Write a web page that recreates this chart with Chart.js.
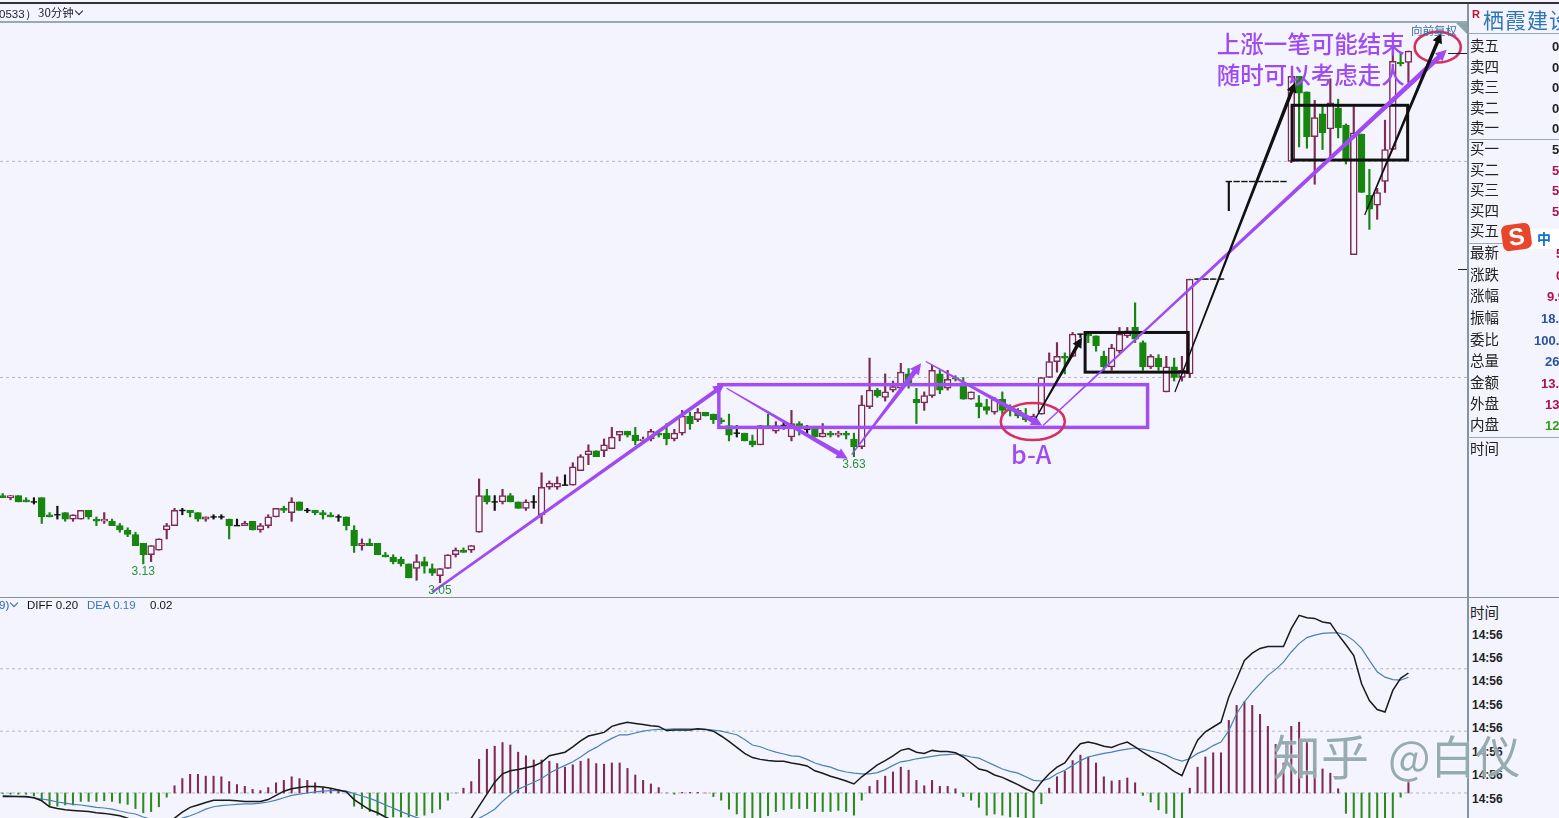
<!DOCTYPE html>
<html lang="zh">
<head>
<meta charset="utf-8">
<title>栖霞建设 30分钟</title>
<script src="https://cdn.jsdelivr.net/npm/chart.js@4"></script>
<style>
  html, body { margin: 0; padding: 0; background: #f3f4fe; }
  #page { position: relative; width: 1559px; height: 818px; overflow: hidden; background: #f3f4fe; font-family: "Noto Sans CJK SC", sans-serif; }
  canvas { position: absolute; left: 0; display: block; }
  .t { position: absolute; white-space: nowrap; line-height: 1; }
  .rule { position: absolute; background: #9aa8b2; }
  .row { font-size: 14.5px; color: #222; left: 1470px; }
  .val { font: 13px "Liberation Sans", sans-serif; font-weight: bold; }
  .clock { font: bold 12px "Liberation Sans", sans-serif; color: #222; left: 1472px; }
  .chev { position: absolute; width: 5px; height: 5px; border-right: 1.5px solid #223; border-bottom: 1.5px solid #223; transform: rotate(45deg); }
</style>
</head>
<body>
<div id="page">
  <canvas id="priceChart" width="1467" height="575" style="top:22px"></canvas>
  <canvas id="macdChart" width="1467" height="220" style="top:598px"></canvas>

  <div class="rule" style="left:0;top:2px;width:1559px;height:2px;background:#333"></div>
  <div class="rule" style="left:0;top:21px;width:1467px;height:2px"></div>
  <div class="rule" style="left:0;top:597px;width:1559px;height:1px;background:#8a8f98"></div>
  <div class="rule" style="left:1467px;top:4px;width:1.5px;height:814px;background:#8494a2"></div>
  <div class="rule" style="left:1468px;top:33px;width:91px;height:1px"></div>
  <div class="rule" style="left:1468px;top:139px;width:91px;height:1px"></div>
  <div class="rule" style="left:1468px;top:243px;width:91px;height:1px"></div>
  <div class="rule" style="left:1468px;top:437px;width:91px;height:1px"></div>
  <div class="rule" style="left:1448px;top:53px;width:19px;height:1px;background:#222"></div>
  <div class="rule" style="left:1458px;top:269px;width:9px;height:1px;background:#222"></div>
  <div style="position:absolute;left:1456px;top:23px;width:0;height:0;border-top:11px solid #8aa4a8;border-left:11px solid transparent"></div>

  <div class="t" style="left:-1px;top:7px;font:11.5px 'Liberation Sans';color:#223">0533）</div>
  <div class="t" style="left:38px;top:7px;font-size:11.5px;color:#223">30分钟</div>
  <div class="chev" style="left:76px;top:8px"></div>
  <div class="t" style="left:1411px;top:25px;font-size:11.5px;color:#3a6ea5">向前复权</div>

  <div class="t" style="left:-1px;top:599px;font:11.5px 'Liberation Sans';color:#2a62b0">9)</div>
  <div class="chev" style="left:11px;top:600px;border-color:#2a62b0"></div>
  <div class="t" style="left:27px;top:599px;font:11.5px 'Liberation Sans';color:#111">DIFF 0.20</div>
  <div class="t" style="left:87px;top:599px;font:11.5px 'Liberation Sans';color:#3a74c0">DEA 0.19</div>
  <div class="t" style="left:150px;top:599px;font:11.5px 'Liberation Sans';color:#111">0.02</div>

  <div class="t" style="left:1472px;top:8px;font:bold 11px 'Liberation Sans';color:#c01030">R</div>
  <div class="t" style="left:1483px;top:9px;font-size:21px;color:#2f74b5;letter-spacing:1px">栖霞建设</div>
  <div id="quotePanel"></div>

  <div style="position:absolute;left:1520px;top:229px;width:39px;height:20px;background:#fff"></div>
  <div class="t" style="left:1537px;top:231px;font-size:14px;font-weight:bold;color:#1070d0">中</div>
  <div class="t" style="left:1502px;top:224px;width:29px;height:26px;background:#e8452a;border-radius:6px;transform:rotate(-8deg);color:#fff;font:bold 24px/26px 'Liberation Sans';text-align:center">S</div>

  <div class="t" style="left:1273px;top:730px;font-size:48px;font-weight:400;color:rgba(125,150,160,.8);text-shadow:0 0 2px #fff">知乎</div>
  <div class="t" style="left:1388px;top:732px;font-size:45px;font-weight:400;color:rgba(125,150,160,.8);text-shadow:0 0 2px #fff">@白仪</div>
</div>

<script>
const opens = [
  3.44,3.43,3.44,3.42,3.41,3.43,3.35,3.35,3.36,3.33,
  3.33,3.37,3.33,3.32,3.32,3.30,3.28,3.26,3.22,3.17,
  3.19,3.28,3.30,3.37,3.37,3.36,3.33,3.34,3.34,3.33,
  3.30,3.30,3.32,3.28,3.30,3.34,3.38,3.36,3.41,3.37,
  3.37,3.36,3.35,3.34,3.34,3.28,3.21,3.22,3.22,3.17,
  3.16,3.15,3.13,3.11,3.14,3.11,3.08,3.11,3.17,3.19,
  3.19,3.27,3.44,3.41,3.41,3.44,3.41,3.38,3.41,3.35,
  3.48,3.48,3.49,3.49,3.56,3.64,3.66,3.66,3.67,3.74,
  3.76,3.74,3.71,3.72,3.75,3.75,3.72,3.75,3.84,3.82,
  3.86,3.85,3.82,3.79,3.75,3.75,3.71,3.69,3.79,3.76,
  3.79,3.73,3.80,3.77,3.78,3.73,3.75,3.74,3.75,3.72,
  3.68,3.89,3.98,3.94,3.98,3.99,4.07,3.93,3.91,3.95,
  4.07,3.99,4.05,4.02,3.93,3.91,3.89,3.86,3.93,3.88,
  3.87,3.84,3.81,3.85,4.05,4.14,4.17,4.17,4.30,4.30,
  4.29,4.17,4.11,4.20,4.29,4.34,4.25,4.11,4.16,3.97,
  4.11,4.05,4.07,4.64,4.64,4.64,4.64,5.31,5.31,5.31,
  5.31,5.31,5.31,5.31,5.31,5.46,6.14,6.01,5.65,5.83,
  5.71,5.88,5.74,4.80,5.67,5.21,5.14,5.31,5.55,6.26,6.26
];
const closes = [
  3.43,3.44,3.41,3.41,3.41,3.34,3.34,3.35,3.33,3.35,
  3.37,3.34,3.32,3.33,3.30,3.28,3.26,3.21,3.17,3.21,
  3.24,3.30,3.37,3.37,3.36,3.33,3.34,3.34,3.34,3.30,
  3.30,3.31,3.28,3.30,3.34,3.38,3.37,3.41,3.37,3.37,
  3.36,3.35,3.34,3.34,3.30,3.21,3.22,3.21,3.17,3.16,
  3.14,3.13,3.07,3.14,3.12,3.09,3.11,3.17,3.19,3.18,
  3.21,3.44,3.41,3.41,3.44,3.41,3.38,3.41,3.41,3.48,
  3.50,3.50,3.49,3.58,3.63,3.66,3.63,3.69,3.73,3.76,
  3.74,3.71,3.72,3.76,3.74,3.72,3.75,3.84,3.80,3.86,
  3.84,3.82,3.81,3.74,3.75,3.71,3.69,3.79,3.78,3.79,
  3.79,3.80,3.78,3.77,3.73,3.75,3.74,3.75,3.74,3.68,
  3.90,3.98,3.95,3.97,4.00,4.08,4.02,3.91,3.95,4.09,
  3.98,4.04,4.04,3.93,3.97,3.89,3.87,3.93,3.87,3.87,
  3.84,3.82,3.84,4.05,4.14,4.17,4.16,4.30,4.30,4.29,
  4.23,4.11,4.22,4.30,4.32,4.27,4.11,4.17,4.11,4.11,
  4.05,4.09,4.64,4.64,4.64,4.64,4.64,5.31,5.31,5.31,
  5.31,5.31,5.31,5.31,5.31,6.14,6.00,5.65,5.80,5.68,
  5.92,5.72,5.48,5.68,5.23,5.11,5.23,5.55,6.27,6.25,6.36
];
const highs = [
  3.45,3.44,3.44,3.43,3.43,3.43,3.36,3.39,3.36,3.35,
  3.37,3.37,3.34,3.36,3.33,3.31,3.29,3.27,3.22,3.21,
  3.24,3.31,3.38,3.38,3.37,3.36,3.34,3.35,3.35,3.33,
  3.33,3.32,3.32,3.31,3.35,3.38,3.39,3.43,3.41,3.38,
  3.37,3.37,3.36,3.35,3.34,3.30,3.24,3.24,3.22,3.18,
  3.17,3.16,3.13,3.17,3.16,3.13,3.11,3.17,3.20,3.20,
  3.21,3.52,3.47,3.44,3.47,3.45,3.41,3.42,3.44,3.55,
  3.51,3.53,3.54,3.60,3.64,3.69,3.66,3.72,3.78,3.76,
  3.76,3.78,3.73,3.77,3.76,3.80,3.77,3.87,3.86,3.88,
  3.86,3.85,3.83,3.85,3.79,3.75,3.74,3.79,3.85,3.81,
  3.81,3.87,3.81,3.79,3.78,3.80,3.76,3.76,3.76,3.75,
  3.95,4.16,3.99,4.07,4.03,4.13,4.10,3.99,3.97,4.12,
  4.09,4.09,4.06,4.05,3.97,3.95,3.93,3.94,3.97,3.90,
  3.88,3.88,3.85,4.05,4.19,4.25,4.19,4.31,4.30,4.30,
  4.29,4.20,4.24,4.34,4.34,4.49,4.26,4.18,4.18,4.17,
  4.16,4.17,4.64,4.64,4.64,4.64,4.64,5.31,5.31,5.31,
  5.31,5.31,5.31,5.31,5.31,6.14,6.14,6.01,5.94,5.90,
  6.12,5.95,5.75,5.89,5.67,5.40,5.26,5.78,6.37,6.34,6.36
];
const lows = [
  3.43,3.42,3.41,3.41,3.40,3.31,3.34,3.33,3.32,3.32,
  3.33,3.33,3.30,3.31,3.30,3.27,3.25,3.21,3.13,3.14,
  3.19,3.24,3.30,3.35,3.34,3.32,3.32,3.33,3.33,3.24,
  3.30,3.30,3.28,3.27,3.29,3.34,3.36,3.32,3.37,3.36,
  3.35,3.33,3.34,3.32,3.28,3.18,3.19,3.21,3.17,3.16,
  3.13,3.12,3.07,3.06,3.09,3.08,3.05,3.11,3.16,3.18,
  3.18,3.27,3.40,3.37,3.40,3.41,3.38,3.37,3.38,3.31,
  3.47,3.47,3.49,3.49,3.56,3.59,3.63,3.63,3.67,3.71,
  3.73,3.69,3.70,3.71,3.73,3.69,3.71,3.74,3.77,3.81,
  3.84,3.80,3.80,3.71,3.73,3.71,3.68,3.69,3.78,3.75,
  3.77,3.71,3.74,3.75,3.73,3.73,3.73,3.73,3.72,3.63,
  3.67,3.88,3.94,3.92,3.97,3.98,3.99,3.80,3.87,3.94,
  3.96,3.98,4.03,3.93,3.93,3.83,3.85,3.85,3.85,3.84,
  3.83,3.81,3.80,3.85,4.05,4.08,4.07,4.17,4.28,4.25,
  4.20,4.09,4.09,4.19,4.28,4.25,4.09,4.10,4.09,3.97,
  4.03,4.03,4.05,4.64,4.64,4.64,4.64,5.10,5.31,5.31,
  5.31,5.31,5.31,5.31,5.31,5.45,5.57,5.56,5.29,5.55,
  5.49,5.64,5.44,4.80,5.23,4.97,5.04,5.23,5.55,6.23,6.09
];

const macdHist = [
  -.001,-.002,-.002,-.002,-.005,-.012,-.022,-.022,-.02,-.02,
  -.014,-.014,-.014,-.013,-.014,-.017,-.019,-.026,-.033,-.031,
  -.023,-.007,.012,.024,.031,.031,.028,.028,.027,.019,
  .014,.011,.006,.004,.009,.017,.021,.027,.024,.021,
  .017,.009,.007,.005,0,-.022,-.026,-.031,-.037,-.038,
  -.04,-.04,-.04,-.038,-.037,-.033,-.027,-.012,0,.008,
  .019,.056,.073,.078,.084,.08,.068,.062,.055,.055,
  .053,.049,.043,.047,.053,.057,.049,.048,.05,.05,
  .041,.03,.021,.015,.009,0,-.002,.001,.001,.001,
  0,-.006,-.012,-.027,-.035,-.042,-.05,-.05,-.038,-.031,
  -.028,-.026,-.026,-.026,-.031,-.031,-.031,-.029,-.031,-.037,
  -.012,.011,.021,.028,.035,.043,.038,.021,.012,.021,
  .011,.011,.007,-.006,-.012,-.024,-.037,-.035,-.037,-.04,
  -.04,-.05,-.05,-.018,.008,.027,.036,.054,.063,.06,
  .05,.027,.02,.021,.025,.017,-.004,-.015,-.028,-.034,
  -.045,-.05,.008,.043,.06,.067,.067,.121,.146,.152,
  .146,.131,.111,.081,.05,.111,.118,.085,.043,.04,
  .033,.007,-.034,-.05,-.06,-.06,-.055,-.05,-.045,-.007,.021
];
const diffLine = [
  -.006,-.006,-.006,-.006,-.008,-.013,-.023,-.026,-.028,-.029,
  -.03,-.031,-.033,-.034,-.036,-.038,-.042,-.048,-.055,-.058,
  -.056,-.05,-.042,-.032,-.024,-.02,-.016,-.012,-.012,-.012,
  -.013,-.014,-.014,-.014,-.011,-.004,.003,.007,.009,.011,
  .011,.01,.008,.005,.002,-.011,-.02,-.028,-.033,-.04,
  -.046,-.052,-.058,-.063,-.066,-.068,-.07,-.067,-.062,-.052,
  -.042,-.022,-.002,.018,.032,.037,.039,.042,.045,.051,
  .062,.065,.068,.077,.087,.095,.098,.101,.111,.115,
  .118,.116,.114,.112,.111,.104,.105,.105,.105,.107,
  .106,.103,.095,.086,.076,.066,.059,.056,.054,.053,
  .053,.05,.048,.045,.037,.033,.028,.024,.02,.015,
  .027,.037,.047,.054,.062,.071,.074,.068,.066,.071,
  .069,.069,.067,.06,.05,.04,.037,.03,.026,.02,
  .014,.007,.001,.018,.032,.043,.05,.068,.082,.085,
  .082,.078,.076,.081,.085,.077,.068,.06,.053,.045,
  .036,.029,.06,.088,.102,.11,.118,.16,.19,.221,
  .233,.241,.244,.244,.244,.274,.296,.292,.291,.285,
  .283,.264,.247,.229,.182,.154,.139,.135,.171,.191,.2
];
const deaLine = [
  -.004,-.005,-.006,-.007,-.008,-.01,-.012,-.015,-.017,-.019,
  -.02,-.022,-.024,-.025,-.027,-.03,-.033,-.035,-.04,-.044,
  -.047,-.049,-.047,-.042,-.038,-.033,-.027,-.023,-.021,-.02,
  -.019,-.018,-.018,-.017,-.015,-.012,-.008,-.004,-.002,0,
  .002,.003,.004,.004,.003,-.001,-.005,-.009,-.014,-.02,
  -.025,-.031,-.036,-.041,-.045,-.05,-.054,-.057,-.058,-.056,
  -.051,-.042,-.035,-.027,-.014,-.003,.006,.012,.018,.024,
  .033,.04,.046,.052,.06,.069,.076,.084,.091,.097,
  .097,.1,.103,.105,.106,.106,.107,.107,.107,.106,
  .106,.105,.103,.1,.097,.089,.08,.077,.072,.068,
  .065,.062,.061,.056,.05,.046,.043,.038,.035,.033,
  .032,.032,.034,.039,.046,.052,.054,.057,.059,.061,
  .063,.064,.065,.063,.06,.058,.052,.046,.04,.036,
  .033,.027,.021,.02,.024,.032,.038,.046,.054,.06,
  .063,.066,.068,.071,.073,.075,.073,.07,.067,.063,
  .057,.053,.057,.066,.071,.079,.085,.104,.132,.152,
  .168,.182,.196,.206,.218,.235,.249,.259,.263,.266,
  .267,.267,.263,.254,.241,.221,.202,.193,.189,.188,.193
];

// lows marked on the price panel: candle index, label
const lowMarks = [[18, '3.13'], [56, '3.05'], [109, '3.63']];
const priceLevels = [4.05, 5.46];
const macdLevels = [0, 0.103, 0.207];

// hand drawn marks, all in candle index / price: x0, p0, x1, p1
const purpleArrows = [
  [55.0, 3.01, 92.4, 4.01],
  [92.7, 3.99, 108.2, 3.62],
  [108.7, 3.64, 117.6, 4.13],
  [118.2, 4.14, 133.1, 3.79],
  [133.2, 3.79, 184.9, 6.37]
];
const blackArrows = [
  [132.3, 3.83, 138.2, 4.28],
  [150.1, 3.97, 165.5, 6.09],
  [174.4, 5.07, 184.2, 6.52]
];
const purpleBoxes = [[91.7, 4.01, 146.6, 3.78]];
const blackBoxes = [[138.6, 4.31, 151.8, 4.08], [165.1, 5.90, 179.9, 5.47]];
const redRings = [[127.8, 3.91, 136.0, 3.715], [180.8, 6.53, 186.7, 6.26]];
const notes = [
  ['b-A', 131.7, 3.64, 25],
  ['上涨一笔可能结束', 167.5, 6.42, 23.5],
  ['随时可以考虑走人', 167.5, 6.15, 23.5]
];

const quoteRows = [
  ['卖五', 46, '0', 1552, '#222'], ['卖四', 67, '0', 1552, '#222'], ['卖三', 87, '0', 1552, '#222'],
  ['卖二', 108, '0', 1552, '#222'], ['卖一', 128, '0', 1552, '#222'],
  ['买一', 149, '5', 1552, '#222'], ['买二', 170, '5', 1552, '#b01048'], ['买三', 190, '5', 1552, '#b01048'],
  ['买四', 211, '5', 1552, '#b01048'], ['买五', 231, '', 0, '#222'],
  ['最新', 253, '5', 1556, '#b01048'], ['涨跌', 275, '0', 1556, '#b01048'], ['涨幅', 296, '9.9', 1547, '#b01048'],
  ['振幅', 318, '18.9', 1541, '#2a52a0'], ['委比', 340, '100.0', 1534, '#2a52a0'], ['总量', 361, '26', 1545, '#2a52a0'],
  ['金额', 383, '13.4', 1541, '#b01048'], ['外盘', 404, '137', 1545, '#b01048'], ['内盘', 425, '12', 1545, '#30a010'],
  ['时间', 449, '', 0, '#222'], ['时间', 613, '', 0, '#222']
];
const clockRows = [634, 657, 680, 704, 727, 751, 774, 798];

const UP = '#7e2a52';
const DOWN = '#17860f';
const FLAT = '#111';
const PURPLE = '#a04af4';
const BACK = '#f3f4fe';

// same x mapping on both panels so candles and histogram line up
const xMin = -0.346;
const xMax = 187.5;

const candleColor = (i) => closes[i] > opens[i] ? UP : closes[i] < opens[i] ? DOWN : FLAT;
const idx = opens.map((_, i) => i);
const bodies = idx.filter((i) => opens[i] !== closes[i]);
const flats = idx.filter((i) => opens[i] === closes[i]);

function drawArrow(ctx, a, b, w0, w1, head, color) {
  const ang = Math.atan2(b.y - a.y, b.x - a.x);
  const len = Math.hypot(b.x - a.x, b.y - a.y);
  ctx.save();
  ctx.translate(a.x, a.y);
  ctx.rotate(ang);
  ctx.fillStyle = color;
  ctx.beginPath();
  ctx.moveTo(0, -w0 / 2);
  ctx.lineTo(len - head, -w1 / 2);
  ctx.lineTo(len - head, -head * 0.5);
  ctx.lineTo(len, 0);
  ctx.lineTo(len - head, head * 0.5);
  ctx.lineTo(len - head, w1 / 2);
  ctx.lineTo(0, w0 / 2);
  ctx.closePath();
  ctx.fill();
  ctx.restore();
}

const marksPlugin = {
  id: 'marks',
  afterDatasetsDraw(chart) {
    const { ctx, scales: { x, y } } = chart;
    const at = (i, p) => ({ x: x.getPixelForValue(i), y: y.getPixelForValue(p) });
    ctx.save();
    const box = (r, color, lw) => {
      const a = at(r[0], r[1]);
      const b = at(r[2], r[3]);
      ctx.strokeStyle = color;
      ctx.lineWidth = lw;
      ctx.strokeRect(a.x, a.y, b.x - a.x, b.y - a.y);
    };
    purpleBoxes.forEach((r) => box(r, '#a34ef2', 3.5));
    blackBoxes.forEach((r) => box(r, '#111', 3));
    redRings.forEach((r) => {
      const a = at(r[0], r[1]);
      const b = at(r[2], r[3]);
      ctx.strokeStyle = '#d5305f';
      ctx.lineWidth = 2.6;
      ctx.beginPath();
      ctx.ellipse((a.x + b.x) / 2, (a.y + b.y) / 2, (b.x - a.x) / 2, (b.y - a.y) / 2, 0, 0, Math.PI * 2);
      ctx.stroke();
    });
    purpleArrows.forEach((r, k) => {
      drawArrow(ctx, at(r[0], r[1]), at(r[2], r[3]), k === 0 ? 2.5 : 1.2, k === 0 ? 4 : 5, 11, PURPLE);
    });
    blackArrows.forEach((r) => drawArrow(ctx, at(r[0], r[1]), at(r[2], r[3]), 1.2, 3.6, 10, '#111'));

    ctx.textAlign = 'center';
    ctx.textBaseline = 'middle';
    ctx.fillStyle = '#2f8f3a';
    ctx.font = '12px "Liberation Sans", sans-serif';
    lowMarks.forEach((m) => {
      const p = at(m[0], lows[m[0]]);
      ctx.fillText(m[1], p.x, p.y + 8);
    });
    ctx.fillStyle = PURPLE;
    notes.forEach((n) => {
      const p = at(n[1], n[2]);
      ctx.font = '500 ' + n[3] + 'px "Noto Sans CJK SC", sans-serif';
      ctx.fillText(n[0], p.x, p.y);
    });
    ctx.restore();
  }
};

// dashed level lines, drawn as datasets so both axes can stay hidden
const levelSets = (levels) => levels.map((v) => ({
  type: 'line',
  label: 'level',
  data: [{ x: xMin, y: v }, { x: xMax, y: v }],
  borderColor: '#b4b8c2',
  borderWidth: 1,
  borderDash: [3, 3],
  pointRadius: 0,
  order: 9
}));

const xAxis = { type: 'linear', display: false, offset: false, min: xMin, max: xMax };
const baseOptions = {
  responsive: false,
  animation: false,
  layout: { padding: 0, autoPadding: false },
  events: [],
  plugins: { legend: { display: false }, tooltip: { enabled: false } }
};

new Chart(document.getElementById('priceChart'), {
  type: 'bar',
  data: {
    datasets: levelSets(priceLevels).concat([
      {
        label: 'wick',
        data: idx.map((i) => ({ x: i, y: [lows[i], highs[i]] })),
        backgroundColor: idx.map(candleColor),
        grouped: false,
        categoryPercentage: 1,
        barPercentage: 1,
        maxBarThickness: 1.5,
        order: 3
      },
      {
        label: 'body',
        data: bodies.map((i) => ({ x: i, y: [opens[i], closes[i]] })),
        backgroundColor: bodies.map((i) => closes[i] > opens[i] ? BACK : DOWN),
        borderColor: bodies.map(candleColor),
        borderWidth: 1.5,
        borderSkipped: false,
        grouped: false,
        categoryPercentage: 1,
        barPercentage: 1,
        maxBarThickness: 6.8,
        order: 2
      },
      {
        type: 'line',
        label: 'flat',
        data: flats.map((i) => ({ x: i, y: opens[i] })),
        showLine: false,
        pointStyle: 'line',
        pointRadius: 3.2,
        pointBorderWidth: 1.4,
        pointBorderColor: FLAT,
        order: 1
      }
    ])
  },
  options: Object.assign({}, baseOptions, {
    scales: {
      x: xAxis,
      y: { type: 'logarithmic', display: false, min: 2.99, max: 6.62, beginAtZero: false }
    }
  }),
  plugins: [marksPlugin]
});

new Chart(document.getElementById('macdChart'), {
  type: 'bar',
  data: {
    datasets: levelSets(macdLevels).concat([
      {
        label: 'MACD',
        data: idx.map((i) => ({ x: i, y: macdHist[i] })),
        backgroundColor: macdHist.map((v) => v >= 0 ? '#7e2a52' : '#2f8a1e'),
        grouped: false,
        categoryPercentage: 1,
        barPercentage: 1,
        maxBarThickness: 1.4,
        order: 3
      },
      {
        type: 'line',
        label: 'DEA',
        data: idx.map((i) => ({ x: i, y: deaLine[i] })),
        borderColor: '#4a80b4',
        borderWidth: 1.2,
        pointRadius: 0,
        order: 2
      },
      {
        type: 'line',
        label: 'DIFF',
        data: idx.map((i) => ({ x: i, y: diffLine[i] })),
        borderColor: '#1a1a1a',
        borderWidth: 1.5,
        pointRadius: 0,
        order: 1
      }
    ])
  },
  options: Object.assign({}, baseOptions, {
    scales: {
      x: xAxis,
      y: { type: 'linear', display: false, min: -0.0417, max: 0.325 }
    }
  })
});

const panel = document.getElementById('quotePanel');
function addText(cls, left, top, text, color) {
  const el = document.createElement('div');
  el.className = 't ' + cls;
  el.style.left = left + 'px';
  el.style.top = top + 'px';
  if (color) el.style.color = color;
  el.textContent = text;
  panel.appendChild(el);
}
quoteRows.forEach((r) => {
  addText('row', 1470, r[1] - 8, r[0]);
  if (r[2]) addText('val', r[3], r[1] - 7, r[2], r[4]);
});
clockRows.forEach((y) => addText('clock', 1472, y - 6, '14:56'));
</script>
</body>
</html>
